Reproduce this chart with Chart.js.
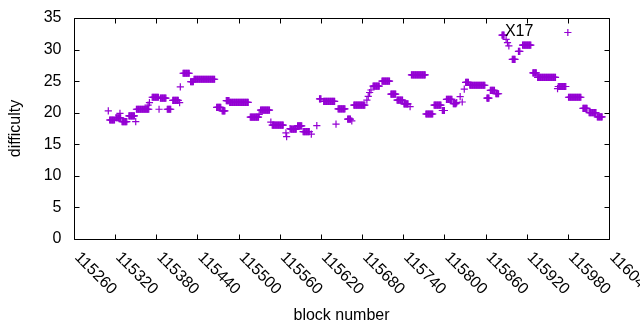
<!DOCTYPE html>
<html>
<head>
<meta charset="utf-8">
<script src="https://cdn.jsdelivr.net/npm/chart.js@4/dist/chart.umd.min.js"></script>
<style>
  html, body { margin: 0; padding: 0; background: #fff; }
  #wrap { width: 640px; height: 330px; }
</style>
</head>
<body>
<div id="wrap"><canvas id="grafico" width="640" height="330"></canvas></div>
<script>
// difficulty runs: first block, last block, difficulty
const runStart = [
  115310, 115312, 115321, 115327, 115330, 115340, 115350, 115351, 115368, 115370,
  115374, 115384, 115386, 115396, 115404, 115414, 115415, 115419, 115430, 115435,
  115468, 115476, 115482, 115487, 115517, 115530, 115532, 115547, 115549, 115569,
  115570, 115575, 115576, 115586, 115594, 115606, 115614, 115618, 115624, 115642,
  115645, 115659, 115665, 115668, 115687, 115689, 115691, 115693, 115696, 115709,
  115722, 115731, 115741, 115750, 115752, 115773, 115785, 115797, 115803, 115813,
  115818, 115823, 115826, 115829, 115831, 115837, 115862, 115867, 115875, 115884,
  115890, 115892, 115894, 115899, 115908, 115914, 115929, 115936, 115965, 115966,
  115980, 115981, 116002, 116011, 116023
];
const runEnd = [
  115310, 115319, 115328, 115327, 115337, 115348, 115350, 115369, 115368, 115370,
  115383, 115384, 115394, 115401, 115412, 115414, 115415, 115428, 115434, 115465,
  115474, 115480, 115486, 115514, 115529, 115530, 115545, 115547, 115565, 115569,
  115570, 115575, 115584, 115592, 115603, 115606, 115614, 115620, 115640, 115642,
  115655, 115663, 115665, 115684, 115687, 115689, 115691, 115693, 115705, 115720,
  115729, 115739, 115747, 115750, 115772, 115783, 115795, 115800, 115811, 115817,
  115818, 115823, 115826, 115829, 115835, 115859, 115865, 115873, 115879, 115887,
  115890, 115892, 115894, 115903, 115910, 115926, 115934, 115962, 115965, 115977,
  115980, 115999, 116008, 116021, 116030
];
const runDifficulty = [
  20.3, 18.85, 19.2, 19.9, 18.6, 19.5, 18.6, 20.55, 21.2, 21.6,
  22.45, 20.55, 22.3, 20.55, 21.95, 21.6, 24.1, 26.25, 24.9, 25.3,
  20.85, 20.3, 21.9, 21.65, 19.3, 19.75, 20.4, 18.5, 18.05, 16.8,
  16.2, 17.5, 17.4, 17.9, 17.0, 16.6, 17.95, 22.2, 21.8, 18.2,
  20.6, 19.0, 18.7, 21.2, 22.0, 22.6, 23.2, 23.6, 24.2, 25.0,
  22.95, 22.0, 21.4, 20.95, 26.0, 19.8, 21.2, 20.35, 22.1, 21.45,
  21.6, 22.55, 21.7, 23.75, 24.8, 24.35, 22.3, 23.55, 23.0, 32.3,
  31.6, 31.1, 30.6, 28.45, 29.7, 30.7, 26.3, 25.6, 23.8, 24.15,
  32.7, 22.45, 20.7, 20.0, 19.35
];

const xMin = 115260, xMax = 116040, xStep = 60;
const yMin = 0, yMax = 35, yStep = 5;
const xTickLabels = [];
for (let v = xMin; v <= xMax; v += xStep) xTickLabels.push(v);
const yTickLabels = [];
for (let v = yMin; v <= yMax; v += yStep) yTickLabels.push(v);

const labelText = 'X17';
const labelBlock = 115909;
const labelDifficulty = 32.86;

// one point per block inside each run
const pontos = [];
for (let i = 0; i < runStart.length; i++) {
    for (let b = runStart[i]; b <= runEnd[i]; b++) {
        pontos.push({ x: b, y: runDifficulty[i] });
    }
}

Chart.defaults.font.family = "'Liberation Sans', Arial, sans-serif";
Chart.defaults.font.size = 16;
Chart.defaults.color = '#000';

const moldura = {
    id: 'moldura',
    afterDraw(chart) {
        const ctx = chart.ctx;
        const area = chart.chartArea;
        const sx = chart.scales.x;
        const sy = chart.scales.y;
        const tick = 5;
        ctx.save();
        ctx.strokeStyle = '#000';
        ctx.lineWidth = 1;
        ctx.beginPath();
        const l = Math.round(area.left) + 0.5, r = Math.round(area.right) + 0.5;
        const t = Math.round(area.top) + 0.5, b = Math.round(area.bottom) + 0.5;
        ctx.rect(l, t, r - l, b - t);
        yTickLabels.forEach(v => {
            const y = Math.round(sy.getPixelForValue(v)) + 0.5;
            ctx.moveTo(l, y); ctx.lineTo(l + tick, y);
            ctx.moveTo(r, y); ctx.lineTo(r - tick, y);
        });
        xTickLabels.forEach(v => {
            const x = Math.round(sx.getPixelForValue(v)) + 0.5;
            ctx.moveTo(x, b); ctx.lineTo(x, b - tick);
            ctx.moveTo(x, t); ctx.lineTo(x, t + tick);
        });
        ctx.stroke();

        ctx.fillStyle = '#000';
        ctx.font = "16px 'Liberation Sans', Arial, sans-serif";
        ctx.textBaseline = 'middle';
        ctx.textAlign = 'right';
        yTickLabels.forEach(v => {
            ctx.fillText(String(v), area.left - 12.5, sy.getPixelForValue(v));
        });

        ctx.textAlign = 'left';
        xTickLabels.forEach(v => {
            const x = sx.getPixelForValue(v);
            ctx.save();
            ctx.translate(x + 3, area.bottom + 16);
            ctx.rotate(Math.PI / 4);
            ctx.fillText(String(v), 0, 0);
            ctx.restore();
        });

        ctx.textAlign = 'center';
        ctx.fillText(labelText, sx.getPixelForValue(labelBlock), sy.getPixelForValue(labelDifficulty));
        ctx.restore();
    }
};

new Chart(document.getElementById('grafico').getContext('2d'), {
    type: 'scatter',
    data: {
        datasets: [{
            label: 'difficulty',
            data: pontos,
            pointStyle: 'cross',
            pointRadius: 3.6,
            borderWidth: 1.2,
            borderColor: '#9400d3',
            backgroundColor: '#9400d3'
        }]
    },
    options: {
        responsive: false,
        animation: false,
        devicePixelRatio: 1,
        layout: {
            padding: { top: 18, right: 31, left: 0, bottom: 0 }
        },
        plugins: {
            legend: { display: false },
            tooltip: { enabled: false }
        },
        scales: {
            x: {
                type: 'linear',
                min: xMin,
                max: xMax,
                grid: { display: false, drawTicks: false },
                border: { display: false },
                ticks: { display: false, stepSize: xStep },
                title: {
                    display: true,
                    text: 'block number',
                    padding: { top: 0, bottom: 5 }
                },
                afterFit(scale) { scale.height = 91; }
            },
            y: {
                min: yMin,
                max: yMax,
                grid: { display: false, drawTicks: false },
                border: { display: false },
                ticks: { display: false, stepSize: yStep },
                title: {
                    display: true,
                    text: 'difficulty',
                    padding: { top: 6, bottom: 0 }
                },
                afterFit(scale) { scale.width = 74; }
            }
        }
    },
    plugins: [moldura]
});
</script>
</body>
</html>
